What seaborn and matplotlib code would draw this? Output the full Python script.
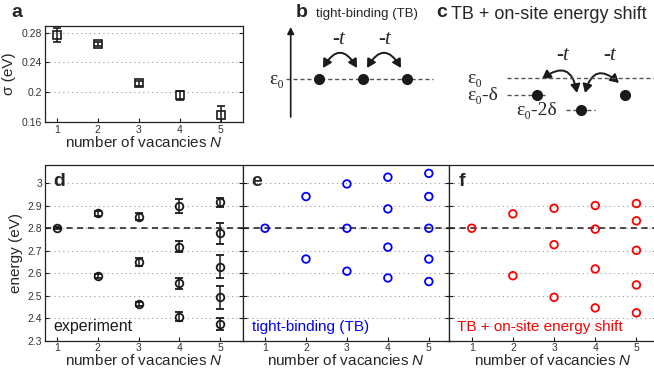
import numpy as np
import matplotlib
matplotlib.use('Agg')
import matplotlib.pyplot as plt
import seaborn as sns
from matplotlib.patches import FancyArrowPatch

# ---------------------------------------------------------------
# data
# ---------------------------------------------------------------
vacancies = [1, 2, 3, 4, 5]
sigma = [0.277, 0.265, 0.212, 0.196, 0.170]
sigma_err = [0.009, 0.003, 0.003, 0.006, 0.0115]

# energy levels, listed N by N (one entry per level)
level_N = [1, 2, 2, 3, 3, 3, 4, 4, 4, 4, 5, 5, 5, 5, 5]
exp_E = [2.801, 2.866, 2.588, 2.852, 2.651, 2.464, 2.900, 2.718, 2.555, 2.407,
         2.915, 2.777, 2.629, 2.493, 2.374]
exp_err = [0.005, 0.012, 0.008, 0.016, 0.018, 0.010, 0.030, 0.025, 0.025, 0.021,
           0.021, 0.046, 0.050, 0.050, 0.026]
tb_E = [2.800, 2.941, 2.663, 2.997, 2.800, 2.609, 3.027, 2.886, 2.716, 2.579,
        3.044, 2.941, 2.800, 2.663, 2.563]
shift_E = [2.800, 2.864, 2.589, 2.889, 2.727, 2.493, 2.901, 2.796, 2.619, 2.446,
           2.910, 2.833, 2.702, 2.548, 2.424]
E0 = 2.8

sigma_ticks = [0.16, 0.2, 0.24, 0.28]
sigma_ticklabels = ['0.16', '0.2', '0.24', '0.28']
energy_ticks = [2.3, 2.4, 2.5, 2.6, 2.7, 2.8, 2.9, 3.0]
energy_ticklabels = ['2.3', '2.4', '2.5', '2.6', '2.7', '2.8', '2.9', '3']

# ---------------------------------------------------------------
sns.set_theme(style='ticks')
plt.rcParams['font.family'] = ['Liberation Sans', 'DejaVu Sans']
plt.rcParams['mathtext.fontset'] = 'custom'
plt.rcParams['mathtext.rm'] = 'Liberation Sans'
plt.rcParams['mathtext.it'] = 'Liberation Sans:italic'

W, H = 654, 374
fig = plt.figure(figsize=(W / 100, H / 100), dpi=100)
fig.patch.set_facecolor('white')


def px_axes(l, t, r, b):
    return fig.add_axes([l / W, 1 - b / H, (r - l) / W, (b - t) / H])


def style_axes(ax, ticks, labels, show_labels=True):
    ax.set_facecolor('white')
    ax.set_yticks(ticks)
    ax.set_yticklabels(labels if show_labels else [])
    ax.set_xticks(vacancies)
    ax.tick_params(direction='in', length=3, width=0.8, right=True,
                   labelsize=7.5, labelcolor='#333333', pad=2, color='k')
    ax.yaxis.grid(True, linestyle=(0, (1, 3)), color='#999999', lw=0.8)
    ax.xaxis.grid(False)
    for s in ax.spines.values():
        s.set_color('#222222')
        s.set_linewidth(0.9)


xlab = r'number of vacancies $N$'

# ---- panel a ----
ax_a = px_axes(45, 26, 242.7, 122)
ax_a.errorbar(vacancies, sigma, yerr=sigma_err, fmt='s', mfc='none', mec='k',
              mew=1.2, ms=5.5, ecolor='k', elinewidth=1.1, capsize=3.2,
              capthick=1.1, color='k')
ax_a.set_xlim(0.714, 5.54)
ax_a.set_ylim(0.16, 0.289)
style_axes(ax_a, sigma_ticks, sigma_ticklabels)
ax_a.set_xlabel(xlab, fontsize=11, labelpad=0)
ax_a.set_ylabel('σ (eV)', fontsize=11, labelpad=4)

# ---- panel d, e, f ----
ax_d = px_axes(45, 165.5, 242.5, 340.7)
ax_e = px_axes(242.5, 165.5, 449.3, 340.7)
ax_f = px_axes(449.3, 165.5, 657, 340.7)

ax_d.errorbar(level_N, exp_E, yerr=exp_err, fmt='o', mfc='none', mec='k',
              mew=1.3, ms=5.5, ecolor='k', elinewidth=1.1, capsize=3.2,
              capthick=1.1, color='k', zorder=3)
sns.scatterplot(x=level_N, y=tb_E, ax=ax_e, marker='o', s=30,
                facecolor='none', edgecolor='#0000ff', linewidth=1.3, zorder=3)
sns.scatterplot(x=level_N, y=shift_E, ax=ax_f, marker='o', s=30,
                facecolor='none', edgecolor='#ff0000', linewidth=1.3, zorder=3)

xlims = {ax_d: (0.714, 5.54), ax_e: (0.45, 5.5), ax_f: (0.456, 5.5)}
for ax, lim in xlims.items():
    ax.axhline(E0, ls=(0, (4, 3)), color='k', lw=1.1, zorder=2)
    ax.set_ylim(2.3, 3.079)
    ax.set_xlim(*lim)
    style_axes(ax, energy_ticks, energy_ticklabels, show_labels=(ax is ax_d))
    ax.set_xlabel(xlab, fontsize=11, labelpad=0)
ax_d.set_ylabel('energy (eV)', fontsize=11, labelpad=3)

ax_d.text(0.04, 0.04, 'experiment', transform=ax_d.transAxes, fontsize=11.5,
          color='k', ha='left', va='bottom')
ax_e.text(0.045, 0.04, 'tight-binding (TB)', transform=ax_e.transAxes,
          fontsize=11, color='#0000ff', ha='left', va='bottom')
ax_f.text(0.035, 0.04, 'TB + on-site energy shift', transform=ax_f.transAxes,
          fontsize=11, color='#ff0000', ha='left', va='bottom')

# ---------------------------------------------------------------
# overlay in pixel units for letters and the schematics b, c
# ---------------------------------------------------------------
ov = fig.add_axes([0, 0, 1, 1], zorder=10)
ov.set_xlim(0, W)
ov.set_ylim(H, 0)
ov.axis('off')
ov.patch.set_alpha(0)

letters = [('a', 11, 12), ('b', 296, 12), ('c', 436, 12),
           ('d', 53, 181), ('e', 251, 181), ('f', 459, 181)]
for s, x, y in letters:
    ov.text(x, y, s, fontsize=14, fontweight='bold', ha='left', va='center')

serif = ['Liberation Serif', 'DejaVu Serif']

# schematic b
b_sites_x = [319.3, 363.3, 406.7]
b_level_y = 79
ov.text(316, 14, 'tight-binding (TB)', fontsize=9.5, ha='left', va='center')
ov.annotate('', xy=(290.7, 27), xytext=(290.7, 117),
            arrowprops=dict(arrowstyle='-|>', lw=1.2, color='k',
                            mutation_scale=10, shrinkA=0, shrinkB=0))
ov.text(284, b_level_y, 'ε₀', family=serif, fontsize=14, ha='right', va='center')
ov.plot([286, 433], [b_level_y, b_level_y], ls=(0, (3, 2)), color='#555555', lw=1)
ov.plot(b_sites_x, [b_level_y] * 3, 'o', color='k', ms=7)

# schematic c
c_levels = [78, 95, 110]
ov.text(451, 14, 'TB + on-site energy shift', fontsize=13, ha='left', va='center')
ov.text(467, c_levels[0], 'ε₀', family=serif, fontsize=14, ha='left', va='center')
ov.text(467, c_levels[1], 'ε₀-δ', family=serif, fontsize=14, ha='left', va='center')
ov.text(516.7, c_levels[2], 'ε₀-2δ', family=serif, fontsize=14, ha='left', va='center')
ov.plot([507, 654], [c_levels[0]] * 2, ls=(0, (3, 2)), color='#555555', lw=1)
ov.plot([507, 545], [c_levels[1]] * 2, ls=(0, (3, 2)), color='#555555', lw=1)
ov.plot([566, 595], [c_levels[2]] * 2, ls=(0, (3, 2)), color='#555555', lw=1)
ov.plot([536.7, 580.7, 625], [c_levels[1], c_levels[2], c_levels[1]], 'o',
        color='k', ms=7)

# hopping arcs (rad < 0 bends upward on the page)
arcs = [((323, 68), (357, 68), (339, 39), -0.85),
        ((367, 68), (401, 68), (385, 39), -0.85),
        ((542, 79), (577, 93), (563, 55), -0.8),
        ((585, 93), (619, 83), (610, 55), -0.8)]
for p0, p1, tpos, rad in arcs:
    arr = FancyArrowPatch(p0, p1, connectionstyle=f'arc3,rad={rad}',
                          arrowstyle='<|-|>,head_length=5,head_width=2.8',
                          color='k', lw=1.4, shrinkA=0, shrinkB=0)
    ov.add_patch(arr)
    ov.text(tpos[0], tpos[1], '-t', family=serif, fontstyle='italic',
            fontsize=15, ha='center', va='center')

fig.savefig('out.png', dpi=100)
